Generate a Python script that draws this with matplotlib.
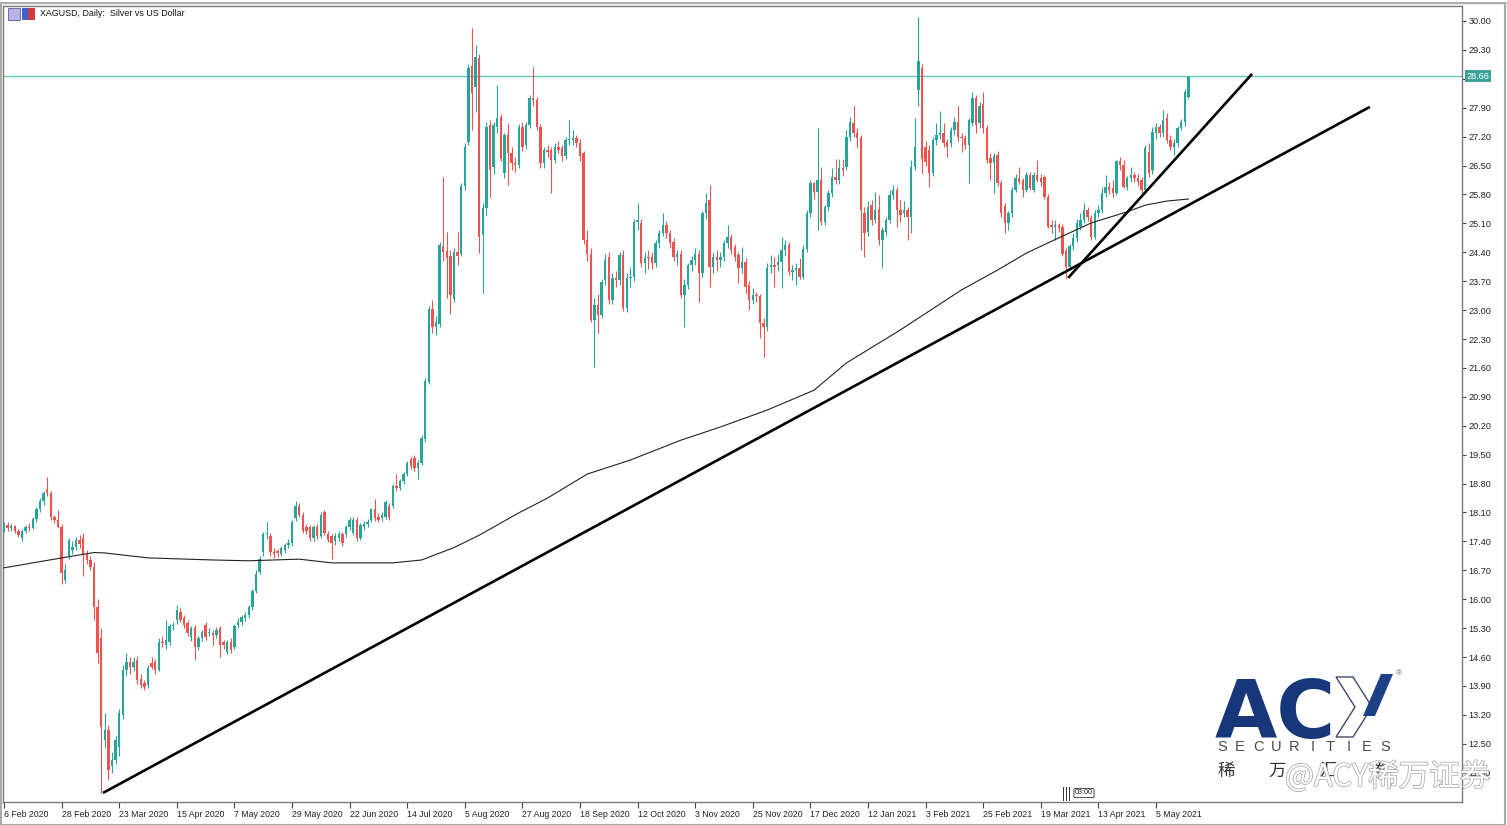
import matplotlib
matplotlib.use("Agg")
import matplotlib.pyplot as plt
import matplotlib.patheffects as pe
import matplotlib.transforms as mtransforms
from matplotlib.patches import Polygon, Rectangle
from matplotlib.lines import Line2D
import numpy as np

plt.rcParams['font.family'] = ['Liberation Sans', 'DejaVu Sans']

# ---- data (XAGUSD daily, one bar per trading day) ----
opens = [
    17.70, 17.80, 17.72, 17.78, 17.64, 17.48, 17.66, 17.75, 17.72, 17.94,
    18.18, 18.38, 18.68, 18.58, 17.98, 17.92, 17.76, 16.47, 17.05, 17.20,
    17.27, 17.43, 17.47, 17.10, 16.95, 16.79, 15.82, 15.05, 12.59, 12.83,
    11.95, 12.11, 12.43, 13.20, 14.29, 14.49, 14.37, 14.53, 14.08, 13.96,
    13.92, 14.45, 14.49, 14.29, 14.97, 14.89, 14.97, 15.34, 15.50, 15.70,
    15.55, 15.42, 15.09, 15.30, 14.85, 15.05, 15.38, 15.17, 15.17, 15.13,
    15.30, 14.97, 14.73, 14.97, 14.85, 15.38, 15.46, 15.55, 15.62, 15.80,
    16.20, 16.66, 17.14, 17.57, 17.53, 17.14, 17.16, 17.10, 17.18, 17.31,
    17.36, 17.96, 18.26, 18.05, 17.74, 17.74, 17.49, 17.74, 17.53, 18.10,
    17.57, 17.53, 17.40, 17.49, 17.57, 17.57, 17.74, 17.61, 17.92, 17.49,
    17.74, 17.83, 17.92, 18.18, 18.00, 17.96, 18.00, 18.26, 18.26, 18.74,
    18.70, 18.87, 19.04, 19.39, 19.43, 19.17, 19.30, 19.87, 21.25, 23.02,
    22.59, 22.67, 24.54, 24.44, 24.31, 23.28, 24.40, 24.36, 26.00, 27.08,
    28.90, 28.40, 29.10, 24.82, 25.47, 27.48, 26.47, 27.44, 27.68, 26.31,
    27.24, 26.80, 26.55, 26.51, 27.44, 27.00, 27.48, 28.13, 28.09, 27.44,
    26.55, 26.88, 26.88, 26.63, 26.96, 26.92, 26.72, 27.12, 27.13, 27.16,
    27.04, 26.80, 24.70, 24.37, 22.76, 23.12, 22.88, 23.73, 24.29, 23.24,
    23.77, 23.73, 24.33, 23.04, 23.77, 23.81, 25.14, 25.10, 24.13, 24.29,
    24.29, 24.13, 24.62, 24.86, 25.06, 24.86, 24.66, 24.29, 24.37, 23.37,
    23.61, 24.09, 24.21, 24.37, 23.89, 25.34, 25.67, 24.05, 24.29, 24.21,
    24.29, 24.62, 24.78, 24.53, 24.33, 24.01, 24.17, 23.61, 23.24, 23.37,
    23.33, 22.68, 22.60, 24.05, 24.09, 24.09, 24.17, 24.45, 24.57, 23.93,
    23.97, 24.01, 23.81, 24.49, 25.34, 26.07, 25.87, 26.15, 25.14, 25.50,
    25.83, 26.23, 26.15, 26.43, 26.47, 27.20, 27.52, 27.28, 27.16, 25.34,
    24.90, 25.54, 25.18, 25.46, 24.70, 24.90, 25.18, 25.79, 25.91, 25.42,
    25.34, 25.42, 25.26, 26.47, 28.33, 28.85, 26.96, 26.88, 26.31, 27.12,
    27.24, 27.28, 27.08, 27.04, 27.36, 27.56, 27.20, 27.16, 27.00, 27.52,
    28.13, 27.52, 28.00, 27.40, 26.68, 26.55, 26.76, 26.07, 25.51, 25.10,
    25.34, 25.91, 26.19, 26.15, 25.91, 26.27, 25.91, 26.27, 26.19, 26.23,
    25.75, 25.06, 25.02, 25.06, 25.02, 24.42, 24.05, 24.54, 24.74, 25.02,
    25.18, 25.42, 25.22, 24.78, 25.34, 25.42, 25.83, 25.99, 25.95, 25.83,
    26.60, 26.51, 25.99, 26.19, 26.27, 26.19, 26.15, 25.91, 26.84, 26.40,
    27.28, 27.44, 27.28, 27.64, 27.12, 26.96, 27.04, 27.40, 27.55, 28.17,
]
highs = [
    17.88, 17.86, 17.82, 17.80, 17.70, 17.70, 17.80, 17.84, 17.98, 18.24,
    18.44, 18.62, 18.97, 18.62, 18.04, 18.16, 17.82, 16.85, 17.48, 17.40,
    17.50, 17.55, 17.60, 17.20, 17.05, 16.90, 16.00, 15.30, 13.24, 12.95,
    12.30, 12.70, 13.35, 14.40, 14.69, 14.60, 14.60, 14.62, 14.20, 14.05,
    14.40, 14.60, 14.55, 15.05, 15.10, 15.50, 15.40, 15.45, 15.86, 15.78,
    15.62, 15.50, 15.35, 15.38, 15.10, 15.25, 15.45, 15.30, 15.25, 15.32,
    15.35, 15.02, 15.02, 15.05, 15.40, 15.55, 15.62, 15.70, 15.85, 16.25,
    16.70, 17.05, 17.62, 17.87, 17.60, 17.25, 17.22, 17.28, 17.36, 17.45,
    17.92, 18.39, 18.32, 18.10, 17.82, 17.80, 17.80, 17.82, 18.12, 18.15,
    17.65, 17.58, 17.60, 17.65, 17.62, 17.80, 17.98, 17.98, 17.98, 17.85,
    17.90, 17.95, 18.22, 18.43, 18.08, 18.12, 18.40, 18.32, 18.78, 19.04,
    18.92, 19.08, 19.35, 19.45, 19.50, 19.36, 19.98, 21.35, 23.10, 23.24,
    22.85, 24.65, 26.22, 24.90, 24.45, 24.50, 24.90, 26.08, 27.05, 28.95,
    29.83, 29.42, 29.20, 25.60, 27.55, 27.60, 27.55, 28.45, 27.75, 27.30,
    27.52, 26.95, 26.70, 27.50, 27.55, 27.55, 28.20, 28.89, 28.15, 27.50,
    26.95, 27.00, 26.95, 27.05, 27.10, 27.00, 27.20, 27.60, 27.35, 27.25,
    27.15, 26.85, 24.95, 24.50, 23.30, 23.40, 23.75, 24.35, 24.40, 23.90,
    23.95, 24.40, 24.45, 23.90, 24.05, 25.20, 25.59, 25.20, 24.40, 24.45,
    24.40, 24.70, 24.95, 25.34, 25.15, 24.95, 24.75, 24.45, 24.45, 23.75,
    24.15, 24.30, 24.50, 24.45, 25.40, 25.83, 26.03, 24.40, 24.45, 24.40,
    24.70, 25.06, 24.85, 24.60, 24.40, 24.53, 24.25, 23.70, 23.53, 23.45,
    23.40, 22.80, 24.13, 24.33, 24.29, 24.37, 24.78, 24.70, 24.66, 24.10,
    24.15, 24.25, 24.57, 25.42, 26.15, 26.11, 27.40, 26.47, 25.55, 25.90,
    26.43, 26.67, 26.67, 26.67, 27.36, 27.68, 27.93, 27.40, 27.25, 25.50,
    25.63, 25.67, 25.87, 25.79, 25.00, 25.25, 25.91, 26.03, 25.98, 25.67,
    25.63, 25.50, 26.63, 27.64, 30.10, 28.95, 27.10, 27.00, 27.20, 27.52,
    27.81, 27.52, 27.15, 27.44, 27.68, 27.93, 27.30, 27.25, 27.65, 28.29,
    28.20, 28.05, 28.29, 27.48, 26.80, 26.80, 26.85, 26.15, 25.60, 25.40,
    25.98, 26.30, 26.47, 26.20, 26.35, 26.35, 26.35, 26.64, 26.30, 26.28,
    25.80, 25.18, 25.18, 25.12, 25.08, 24.50, 24.60, 24.86, 25.20, 25.34,
    25.59, 25.50, 25.30, 25.42, 25.55, 25.99, 26.27, 26.10, 26.15, 26.64,
    26.70, 26.64, 26.25, 26.47, 26.35, 26.30, 26.22, 27.00, 27.04, 27.44,
    27.52, 27.50, 27.85, 27.77, 27.25, 27.15, 27.45, 27.62, 28.35, 28.68,
]
lows = [
    17.62, 17.66, 17.64, 17.60, 17.50, 17.40, 17.60, 17.66, 17.70, 17.88,
    18.10, 18.28, 18.50, 17.92, 17.84, 17.72, 16.38, 16.40, 16.98, 17.10,
    17.20, 17.25, 16.55, 16.85, 16.70, 15.50, 14.45, 11.30, 12.40, 11.62,
    11.79, 12.00, 12.20, 13.10, 14.15, 14.20, 14.25, 13.95, 13.85, 13.80,
    13.85, 14.30, 14.20, 14.25, 14.85, 14.80, 14.90, 15.25, 15.40, 15.45,
    15.30, 15.10, 15.00, 14.53, 14.78, 14.98, 15.02, 15.10, 14.89, 15.05,
    14.61, 14.80, 14.68, 14.70, 14.80, 15.30, 15.38, 15.48, 15.55, 15.75,
    16.15, 16.60, 17.05, 17.45, 17.05, 17.00, 17.02, 17.05, 17.12, 17.25,
    17.30, 17.90, 17.98, 17.60, 17.58, 17.40, 17.42, 17.45, 17.48, 17.55,
    17.38, 16.97, 17.32, 17.42, 17.30, 17.50, 17.68, 17.55, 17.42, 17.44,
    17.68, 17.76, 17.86, 17.90, 17.86, 17.90, 17.95, 17.92, 18.20, 18.62,
    18.64, 18.80, 18.98, 19.15, 19.10, 18.90, 19.25, 19.80, 21.20, 22.45,
    22.40, 22.60, 24.20, 23.30, 22.90, 23.20, 24.10, 24.30, 25.90, 27.00,
    27.36, 27.80, 24.38, 23.41, 25.30, 25.75, 26.30, 27.30, 26.60, 26.20,
    26.03, 26.40, 26.35, 26.45, 26.85, 26.90, 27.40, 27.95, 27.35, 26.45,
    26.45, 26.70, 25.83, 26.55, 26.80, 26.60, 26.65, 27.00, 27.00, 26.95,
    26.60, 24.60, 24.20, 22.70, 21.63, 22.44, 22.80, 23.60, 23.15, 23.15,
    23.55, 23.60, 22.98, 22.95, 23.55, 23.70, 24.95, 24.05, 23.90, 24.00,
    24.00, 24.05, 24.50, 24.80, 24.75, 24.50, 24.20, 24.10, 23.30, 22.60,
    23.50, 23.95, 24.10, 23.20, 23.80, 25.20, 23.57, 23.90, 23.95, 24.05,
    24.20, 24.50, 24.35, 24.20, 23.65, 23.90, 23.41, 23.00, 23.15, 23.20,
    22.32, 21.87, 22.50, 23.90, 23.57, 23.95, 23.53, 24.30, 23.85, 23.73,
    23.61, 23.75, 23.75, 24.40, 25.25, 25.70, 24.94, 25.05, 25.06, 25.40,
    25.75, 26.05, 26.05, 26.25, 26.40, 27.10, 27.20, 26.92, 24.45, 24.29,
    24.80, 25.05, 25.10, 24.57, 24.01, 24.80, 25.10, 25.70, 25.02, 25.14,
    25.25, 24.70, 24.86, 26.40, 27.93, 26.31, 26.50, 25.99, 26.25, 27.00,
    27.15, 26.95, 26.71, 26.95, 27.25, 27.10, 26.84, 26.90, 26.07, 27.45,
    27.28, 27.40, 27.30, 26.55, 26.15, 25.83, 26.00, 25.25, 24.86, 24.95,
    25.25, 25.85, 26.05, 25.75, 25.85, 25.90, 25.85, 26.10, 26.00, 25.70,
    24.98, 24.86, 24.70, 24.90, 24.30, 23.77, 23.97, 24.45, 24.65, 24.95,
    25.10, 25.15, 24.70, 24.72, 25.25, 25.35, 25.75, 25.80, 25.75, 25.78,
    26.40, 25.95, 25.90, 26.10, 26.10, 26.00, 25.83, 25.83, 26.23, 26.30,
    27.15, 27.20, 27.20, 27.05, 26.88, 26.76, 26.95, 27.35, 27.45, 28.10,
]
closes = [
    17.80, 17.72, 17.78, 17.64, 17.55, 17.66, 17.75, 17.72, 17.94, 18.18,
    18.38, 18.58, 18.56, 17.98, 17.92, 17.76, 16.63, 16.71, 17.43, 17.27,
    17.43, 17.33, 17.07, 16.95, 16.79, 15.82, 14.69, 12.91, 12.83, 11.86,
    12.11, 12.59, 13.24, 14.29, 14.49, 14.37, 14.49, 14.04, 13.92, 13.88,
    14.33, 14.37, 14.29, 14.97, 14.93, 15.01, 15.34, 15.38, 15.74, 15.50,
    15.38, 15.17, 15.30, 14.85, 15.05, 15.21, 15.09, 15.21, 15.13, 15.25,
    14.89, 14.89, 14.97, 14.77, 15.34, 15.46, 15.58, 15.62, 15.80, 16.20,
    16.62, 16.97, 17.57, 17.61, 17.14, 17.10, 17.12, 17.23, 17.31, 17.36,
    17.87, 18.26, 18.05, 17.66, 17.66, 17.49, 17.74, 17.53, 18.05, 17.61,
    17.44, 17.36, 17.53, 17.57, 17.36, 17.74, 17.92, 17.92, 17.49, 17.79,
    17.83, 17.87, 18.18, 17.96, 17.92, 18.05, 18.35, 18.00, 18.74, 18.70,
    18.87, 19.04, 19.30, 19.22, 19.17, 19.30, 19.91, 21.29, 23.02, 22.59,
    22.72, 24.58, 24.40, 24.27, 23.37, 24.40, 24.31, 26.00, 26.95, 28.86,
    28.26, 29.13, 24.77, 25.47, 27.43, 26.39, 27.48, 27.64, 26.67, 27.24,
    26.80, 26.55, 26.51, 27.44, 26.96, 27.48, 28.13, 28.09, 27.44, 26.55,
    26.88, 26.84, 26.63, 26.96, 26.88, 26.72, 27.12, 27.13, 27.16, 27.04,
    26.72, 24.70, 24.37, 22.76, 23.12, 22.88, 23.69, 24.21, 23.24, 23.77,
    23.73, 24.33, 23.04, 23.77, 23.81, 25.14, 25.18, 24.13, 24.25, 24.25,
    24.13, 24.62, 24.86, 25.06, 24.86, 24.62, 24.29, 24.37, 23.37, 23.61,
    24.09, 24.21, 24.37, 23.89, 25.34, 25.59, 24.05, 24.29, 24.21, 24.29,
    24.62, 24.78, 24.45, 24.29, 24.01, 24.17, 23.57, 23.24, 23.37, 23.33,
    22.68, 22.60, 24.01, 24.09, 24.05, 24.17, 24.45, 24.57, 23.93, 23.97,
    24.01, 23.81, 24.49, 25.34, 26.07, 25.87, 26.15, 25.14, 25.50, 25.83,
    26.23, 26.15, 26.43, 26.39, 27.20, 27.56, 27.28, 27.16, 25.42, 24.86,
    25.50, 25.18, 25.42, 24.70, 24.94, 25.18, 25.79, 25.91, 25.42, 25.30,
    25.42, 25.26, 26.47, 26.96, 29.02, 26.67, 26.59, 26.31, 27.12, 27.24,
    27.28, 27.04, 26.96, 27.36, 27.56, 27.20, 27.16, 27.00, 27.60, 28.13,
    27.48, 27.93, 27.40, 26.64, 26.55, 26.72, 26.07, 25.34, 25.10, 25.34,
    25.91, 26.19, 26.11, 25.91, 26.27, 25.95, 26.27, 26.15, 26.11, 25.75,
    25.02, 25.02, 25.06, 24.98, 24.37, 24.05, 24.54, 24.74, 25.10, 25.18,
    25.42, 25.26, 24.78, 25.34, 25.42, 25.83, 25.99, 25.91, 25.83, 26.60,
    26.51, 25.99, 26.19, 26.27, 26.19, 26.11, 25.91, 26.92, 26.31, 27.32,
    27.44, 27.28, 27.60, 27.12, 26.96, 27.04, 27.40, 27.55, 28.29, 28.65,
]

# long moving average, read at a few bars
ma_bars = [0, 16, 25, 28, 40, 58, 68, 82, 91, 108, 116, 125, 132, 143, 151,
           162, 174, 188, 199, 212, 225, 234, 249, 266, 276, 284, 293, 302,
           312, 317, 323, 329]
ma_vals = [16.76, 17.00, 17.13, 17.12, 17.00, 16.95, 16.93, 16.97, 16.88,
           16.88, 16.95, 17.25, 17.55, 18.09, 18.45, 19.03, 19.37, 19.85,
           20.17, 20.58, 21.06, 21.72, 22.52, 23.49, 23.97, 24.38, 24.75,
           25.11, 25.38, 25.54, 25.64, 25.69]

# hand drawn trendlines (bar, price) end points
trend_long_bars = [27.5, 379.4]
trend_long_prices = [11.31, 27.92]
trend_short_bars = [295.6, 346.7]
trend_short_prices = [23.78, 28.72]

last_price = 28.66

date_labels = ["6 Feb 2020", "28 Feb 2020", "23 Mar 2020", "15 Apr 2020",
               "7 May 2020", "29 May 2020", "22 Jun 2020", "14 Jul 2020",
               "5 Aug 2020", "27 Aug 2020", "18 Sep 2020", "12 Oct 2020",
               "3 Nov 2020", "25 Nov 2020", "17 Dec 2020", "12 Jan 2021",
               "3 Feb 2021", "25 Feb 2021", "19 Mar 2021", "13 Apr 2021",
               "5 May 2021"]
label_step = 16

UP = '#26a69a'
DOWN = '#ef5350'

W, H = 1507, 825
fig = plt.figure(figsize=(W / 100, H / 100), dpi=100)


def px(x, y):
    # figure pixel (from top-left) -> figure fraction
    return x / W, 1 - y / H


ax = fig.add_axes([3 / W, 1 - 802 / H, (1462 - 3) / W, (802 - 6) / H])
ax.set_xlim(-0.28, 405.0)
ax.set_ylim(11.09, 30.363)

o = np.array(opens)
h = np.array(highs)
l = np.array(lows)
c = np.array(closes)
x = np.arange(len(c))
cols = np.where(c >= o, UP, DOWN)

ax.vlines(x, l, h, colors=cols, linewidth=0.8, zorder=3)
body = np.maximum(np.abs(c - o), 0.025)
ax.bar(x, body, bottom=np.minimum(o, c), width=0.62, color=cols,
       linewidth=0, zorder=3)

ax.plot(ma_bars, ma_vals, color='#222222', lw=0.8, zorder=4)
ax.plot(trend_long_bars, trend_long_prices, color='black', lw=1.9,
        solid_capstyle='butt', zorder=5)
ax.plot(trend_short_bars, trend_short_prices, color='black', lw=1.9,
        solid_capstyle='butt', zorder=5)
ax.axhline(last_price, color='#6cc3ba', lw=1.0, zorder=2)

# axes styling (MT5 look)
for s in ax.spines.values():
    s.set_color('#7a7a7a')
    s.set_linewidth(1.0)
ax.yaxis.tick_right()
yt = np.round(np.arange(11.8, 30.01, 0.7), 2)
ax.set_yticks(yt)
ax.set_yticklabels([f"{v:.2f}" for v in yt])
ax.tick_params(axis='y', length=3, width=0.8, color='#444444', pad=1.5,
               labelsize=6.6, labelcolor='#222222')
ax.set_xticks(range(0, label_step * len(date_labels), label_step))
ax.set_xticklabels(date_labels)
for t in ax.get_xticklabels():
    t.set_horizontalalignment('left')
ax.tick_params(axis='x', length=4, width=0.8, color='#444444', pad=1.5,
               labelsize=6.3, labelcolor='#222222')

# last price tag on the axis
blend = mtransforms.blended_transform_factory(ax.transAxes, ax.transData)
ax.text(1.003, last_price, f"{last_price:.2f}", transform=blend, ha='left',
        va='center', fontsize=6.6, color='white', clip_on=False, zorder=10,
        bbox=dict(facecolor='#3aa597', edgecolor='none', pad=1.2))

# title and window icons
fig.text(*px(40, 14), "XAGUSD, Daily:  Silver vs US Dollar", fontsize=6.4,
         va='center', ha='left', color='#111111')
fig.add_artist(Rectangle(px(8, 20), 12 / W, 12 / H, facecolor='#b9b4e6',
                         edgecolor='#5d5aa8', lw=0.6))
fig.add_artist(Rectangle(px(22, 20), 6 / W, 12 / H, facecolor='#3d63c9',
                         edgecolor='none'))
fig.add_artist(Rectangle(px(28, 20), 7 / W, 12 / H, facecolor='#d33c3c',
                         edgecolor='none'))

# period separator marker near the bottom
for xm in (1063, 1066, 1069):
    fig.add_artist(Line2D([xm / W, xm / W], [1 - 787 / H, 1 - 800 / H],
                          color='#333333', lw=0.7))
fig.text(*px(1075, 793), "03:00", fontsize=5.2, va='center', ha='left',
         color='#222222',
         bbox=dict(boxstyle='round,pad=0.15', facecolor='white',
                   edgecolor='#333333', lw=0.6))

# ACY logo
fig.text(*px(1215, 738), "AC", fontsize=58, fontweight='bold',
         family='DejaVu Sans', color='#17377a', va='baseline', ha='left')
chev = [(1336, 677), (1353, 677), (1372, 707), (1353, 737), (1336, 737),
        (1355, 707)]
fig.add_artist(Polygon([px(*p) for p in chev], closed=True,
                       facecolor='white', edgecolor='#3b4a6b', lw=1.0))
arm = [(1363, 716), (1375, 716), (1393, 674), (1381, 674)]
fig.add_artist(Polygon([px(*p) for p in arm], closed=True,
                       facecolor='#1d3f86', edgecolor='none'))
fig.text(*px(1396, 674), "®", fontsize=6, color='#666666', va='center')
for k, ch in enumerate("SECURITIES"):
    fig.text(*px(1222 + k * 18.1, 747), ch, fontsize=10.5, color='#4a4a4a',
             va='center', ha='center')
for k, ch in enumerate("稀万汇券"):
    fig.text(*px(1226 + k * 51, 771), ch, fontsize=12.5, color='#333333',
             va='center', ha='center', family=['Noto Sans CJK SC'])
fig.text(*px(1285, 777), "@ACY稀万证券", fontsize=22, color='white',
         va='center', ha='left', family=['Noto Sans CJK SC', 'DejaVu Sans'],
         path_effects=[pe.Stroke(linewidth=1.1, foreground='#a8a8a8'),
                       pe.Normal()])

# window border
fig.add_artist(Rectangle((0.5 / W, 0.5 / H), (W - 3) / W, (H - 3) / H,
                         facecolor='none', edgecolor='#a9a9a9', lw=1.5))
fig.add_artist(Line2D([0, 1], [1 - 3 / H, 1 - 3 / H], color='#b0b0b0', lw=1))

fig.savefig("out.png", dpi=100)
